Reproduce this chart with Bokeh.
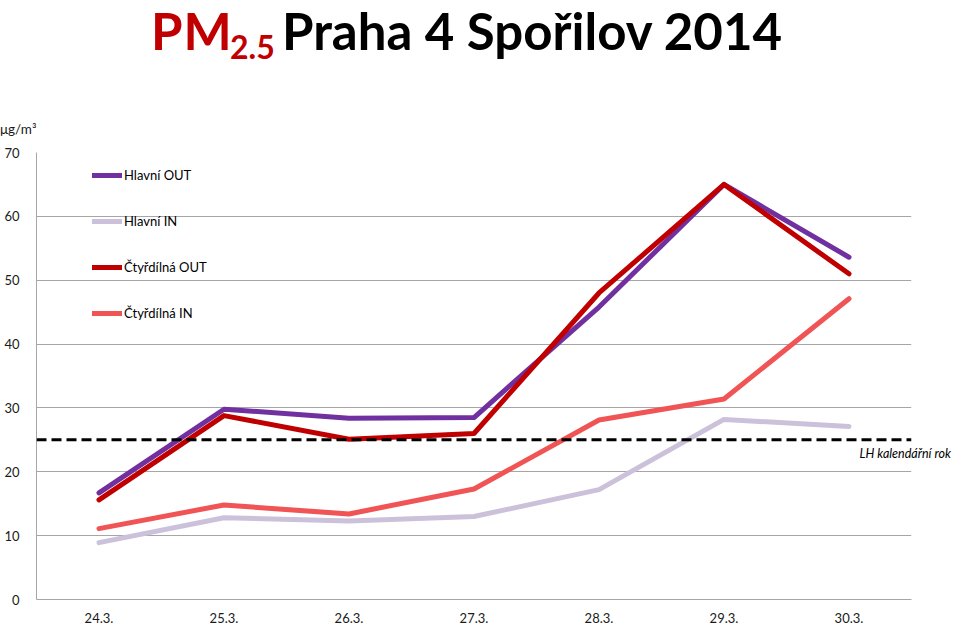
from bokeh.plotting import figure
from bokeh.layouts import column
from bokeh.models import (FactorRange, Range1d, FixedTicker, Span, Div,
                          Legend, LegendItem, LinearAxis)
from bokeh.embed import file_html
from bokeh.resources import INLINE

# ---- data ----
dates = ["24.3.", "25.3.", "26.3.", "27.3.", "28.3.", "29.3.", "30.3."]
hlavni_out = [16.7, 29.8, 28.4, 28.5, 45.8, 65.0, 53.6]
hlavni_in = [8.9, 12.8, 12.3, 13.0, 17.2, 28.2, 27.1]
ctyrdilna_out = [15.6, 28.8, 25.1, 26.0, 48.0, 65.0, 51.0]
ctyrdilna_in = [11.1, 14.8, 13.4, 17.3, 28.1, 31.4, 47.1]
limit_value = 25
limit_label = "LH kalendářní rok"
y_ticks = [0, 10, 20, 30, 40, 50, 60, 70]
unit_label = "μg/m³"

series_names = ["Hlavní OUT", "Hlavní IN", "Čtyřdílná OUT", "Čtyřdílná IN"]
series_values = [hlavni_out, hlavni_in, ctyrdilna_out, ctyrdilna_in]
series_colors = ["#7030A0", "#CCC1DA", "#C00000", "#F05454"]

FONT = "Lato"
W = 958
TITLE_H = 140
MAIN_H = 485

# ---- title strip (HTML text) ----
title_html = (
    '<div style="position:relative;width:%dpx;height:%dpx;font-family:Lato;">' % (W, TITLE_H)
    + '<span style="position:absolute;left:151px;top:0px;font-size:51px;line-height:1.2;'
      'font-weight:bold;color:#C00000;white-space:nowrap;letter-spacing:1px;">PM</span>'
    + '<span style="position:absolute;left:230px;top:28px;font-size:32px;line-height:1.2;'
      'font-weight:bold;color:#C00000;white-space:nowrap;">2.5</span>'
    + '<span style="position:absolute;left:282px;top:0px;font-size:51px;line-height:1.2;'
      'font-weight:bold;color:#000000;white-space:nowrap;">Praha 4 Spořilov 2014</span>'
    + '<span style="position:absolute;left:0px;top:123px;font-size:13.5px;line-height:1;'
      'color:#1a1a1a;white-space:nowrap;">%s</span>' % unit_label
    + '</div>'
)
t = Div(text=title_html, width=W, height=TITLE_H, margin=(0, 0, 0, 0),
        styles={"overflow": "visible"})

# ---- main chart ----
p = figure(width=W, height=MAIN_H, output_backend="svg", toolbar_location=None,
           x_range=FactorRange(*dates, range_padding=0),
           y_range=Range1d(0, 70),
           min_border_left=36, min_border_right=47,
           min_border_top=12, min_border_bottom=24)
p.outline_line_color = None
p.background_fill_color = "white"
p.border_fill_color = "white"

p.yaxis.ticker = FixedTicker(ticks=y_ticks)
for ax in (p.xaxis[0], p.yaxis[0]):
    ax.axis_line_color = "#A6A6A6"
    ax.axis_line_width = 1
    ax.major_tick_line_color = None
    ax.minor_tick_line_color = None
    ax.major_label_text_font = FONT
    ax.major_label_text_font_size = "13px"
    ax.major_label_text_color = "#1a1a1a"
p.yaxis.major_label_standoff = 11
p.xaxis.major_label_standoff = 7
p.xgrid.grid_line_color = None
p.ygrid.grid_line_color = "#A6A6A6"
p.ygrid.grid_line_width = 1

# limit line
p.add_layout(Span(location=limit_value, dimension="width", line_color="black",
                  line_width=3, line_dash="10 5"))

# label of the limit line (right-side axis with a single tick)
lim_axis = LinearAxis(ticker=FixedTicker(ticks=[limit_value]),
                      major_label_overrides={limit_value: "\n" + limit_label},
                      axis_line_color=None, major_tick_line_color=None,
                      minor_tick_line_color=None,
                      major_label_standoff=-58,
                      major_label_text_font=FONT,
                      major_label_text_font_style="italic",
                      major_label_text_font_size="12.5px",
                      major_label_text_color="black",
                      major_label_text_line_height=1.8)
p.add_layout(lim_axis, "right")

items = []
for name, vals, col in zip(series_names, series_values, series_colors):
    r = p.line(x=dates, y=vals, line_color=col, line_width=5,
               line_join="round", line_cap="round")
    items.append(LegendItem(label=name, renderers=[r]))

legend = Legend(items=items, location=(56, 276), padding=0, margin=0,
                spacing=26, glyph_width=30, glyph_height=20, label_height=20,
                label_standoff=2, label_text_font=FONT,
                label_text_font_size="13px", label_text_color="black",
                background_fill_alpha=0, border_line_color=None)
p.add_layout(legend, "center")

layout = column(t, p, spacing=0)
open("out.html", "w").write(file_html(layout, INLINE))
